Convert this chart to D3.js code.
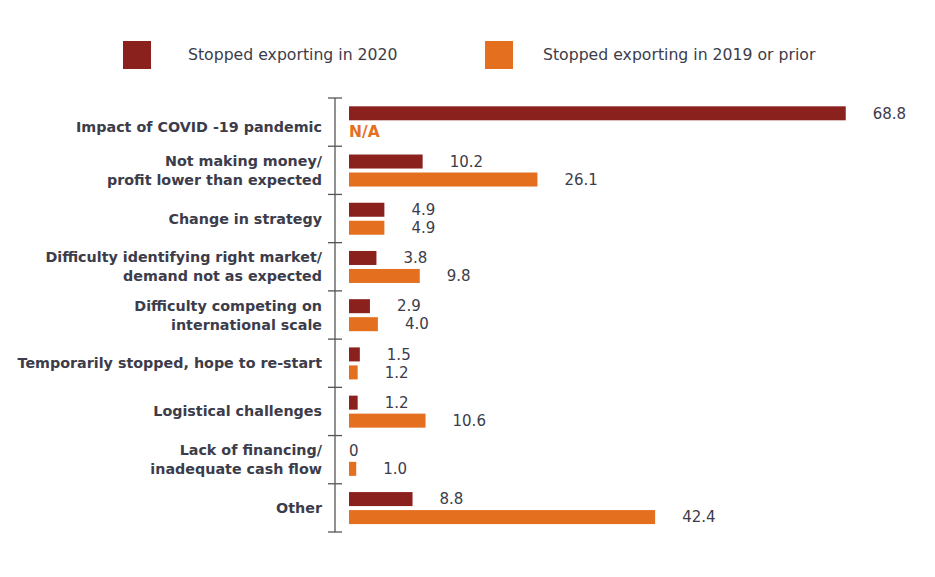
<!DOCTYPE html>
<html>
<head>
<meta charset="utf-8">
<script src="https://cdn.jsdelivr.net/npm/d3@7"></script>
<style>
  html, body { margin: 0; padding: 0; background: #fff; }
  svg { display: block; }
</style>
</head>
<body>
<svg id="chart" width="935" height="577"></svg>
<script>
const categories = [
  ["Impact of COVID -19 pandemic"],
  ["Not making money/", "profit lower than expected"],
  ["Change in strategy"],
  ["Difficulty identifying right market/", "demand not as expected"],
  ["Difficulty competing on", "international scale"],
  ["Temporarily stopped, hope to re-start"],
  ["Logistical challenges"],
  ["Lack of financing/", "inadequate cash flow"],
  ["Other"]
];
const seriesNames = ["Stopped exporting in 2020", "Stopped exporting in 2019 or prior"];
const values2020 = [68.8, 10.2, 4.9, 3.8, 2.9, 1.5, 1.2, 0, 8.8];
const values2019 = [null, 26.1, 4.9, 9.8, 4.0, 1.2, 10.6, 1.0, 42.4];
const naLabel = "N/A";

const colors = ["#8A211D", "#E36F1F"];
const textColor = "#3c3c4a";
const font = "'DejaVu Sans', sans-serif";

const svg = d3.select("#chart");

const catKeys = categories.map(c => c.join(" "));
const y = d3.scaleBand().domain(catKeys).range([98, 532]).paddingInner(0).paddingOuter(0);
const inner = d3.scaleBand().domain(seriesNames).range([8.3, 40.3]).paddingInner(4 / 18).paddingOuter(0);
const x = d3.scaleLinear().domain([0, 70]).range([349, 349 + 70 * 7.22]);

// Legend
const legendX = [123, 485];
const legendTextOff = [65, 58];
seriesNames.forEach((name, i) => {
  const g = svg.append("g").attr("transform", `translate(${legendX[i]},41)`);
  g.append("rect").attr("width", 28).attr("height", 28).attr("fill", colors[i]);
  g.append("text").attr("x", legendTextOff[i]).attr("y", 14).attr("dy", "0.35em")
    .attr("font-family", font).attr("font-size", 15.7).attr("fill", textColor)
    .text(name);
});

// Axis
const axisG = svg.append("g").attr("transform", "translate(335,0)");
axisG.append("line").attr("x1", 0).attr("x2", 0).attr("y1", y.range()[0]).attr("y2", y.range()[1])
  .attr("stroke", "#555").attr("stroke-width", 1.3);
const boundaries = catKeys.map(k => y(k)).concat([y.range()[1]]);
axisG.selectAll("line.tick").data(boundaries).enter().append("line")
  .attr("class", "tick").attr("x1", -7).attr("x2", 7)
  .attr("y1", d => d).attr("y2", d => d)
  .attr("stroke", "#555").attr("stroke-width", 1.3);

// Category labels
const lineGap = 19;
categories.forEach((lines, i) => {
  const shift = values2019[i] === null ? 5 : 0;
  const cy = y(catKeys[i]) + y.bandwidth() / 2 + shift;
  const t = svg.append("text").attr("text-anchor", "end")
    .attr("font-family", font).attr("font-size", 14.3).attr("font-weight", "bold")
    .attr("fill", textColor);
  lines.forEach((ln, j) => {
    const off = (j - (lines.length - 1) / 2) * lineGap;
    t.append("tspan").attr("x", 322).attr("y", cy + off).attr("dy", "0.35em").text(ln);
  });
});

// Bars
const allSeries = [values2020, values2019];
allSeries.forEach((vals, si) => {
  const g = svg.append("g");
  vals.forEach((v, i) => {
    const by = y(catKeys[i]) + inner(seriesNames[si]);
    const bh = inner.bandwidth();
    if (v === null) {
      g.append("text").attr("x", x(0)).attr("y", by + bh / 2).attr("dy", "0.35em")
        .attr("font-family", font).attr("font-size", 15.5).attr("font-weight", "bold")
        .attr("fill", colors[si]).text(naLabel);
      return;
    }
    if (v > 0) {
      g.append("rect").attr("x", x(0)).attr("y", by).attr("width", x(v) - x(0)).attr("height", bh)
        .attr("fill", colors[si]);
    }
    g.append("text")
      .attr("x", v === 0 ? x(0) : x(v) + 27)
      .attr("y", by + bh / 2).attr("dy", "0.35em")
      .attr("font-family", font).attr("font-size", 15).attr("fill", textColor)
      .text(v === 0 ? "0" : v.toFixed(1));
  });
});
</script>
</body>
</html>
